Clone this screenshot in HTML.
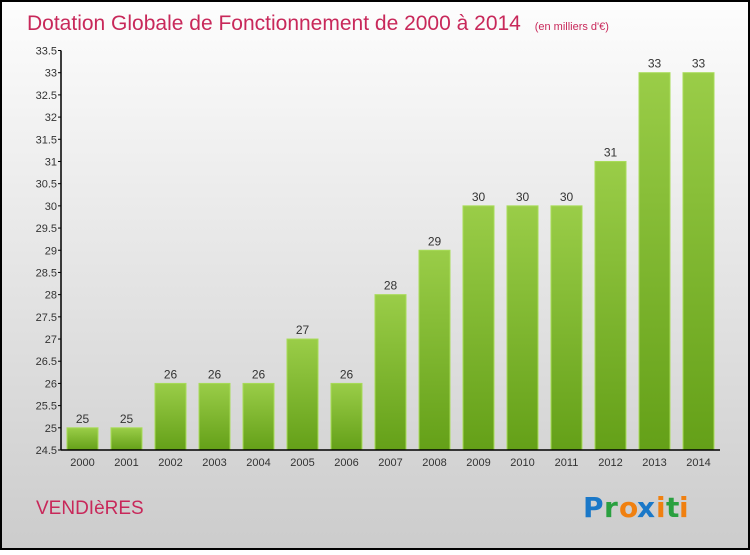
<!DOCTYPE html>
<html><head><meta charset="utf-8"><style>
body{margin:0;width:750px;height:550px;overflow:hidden;font-family:"Liberation Sans",sans-serif}
</style></head><body>
<svg width="750" height="550" xmlns="http://www.w3.org/2000/svg">
<defs>
<linearGradient id="bg" x1="0" y1="0" x2="0" y2="1"><stop offset="0" stop-color="#fdfdfd"/><stop offset="1" stop-color="#cccccc"/></linearGradient>
<linearGradient id="bar" x1="0" y1="0" x2="0" y2="1"><stop offset="0" stop-color="#9acd48"/><stop offset="1" stop-color="#64a018"/></linearGradient>
</defs>
<rect x="1" y="1" width="748" height="548" fill="url(#bg)" stroke="#000" stroke-width="2"/>
<text x="27" y="30" font-size="21" fill="#c8285a">Dotation Globale de Fonctionnement de 2000 à 2014 <tspan font-size="11" dx="8">(en milliers d'€)</tspan></text>
<g id="plot"></g>
<text x="36" y="514" font-size="19" fill="#c8285a">VENDIèRES</text>
<g font-size="28" font-weight="bold" font-family="'DejaVu Sans',sans-serif">
<text x="583" y="517" fill="#1a78c8">P</text><text x="604" y="517" fill="#2aa040">r</text><text x="619" y="517" fill="#f08010">o</text><text x="637" y="517" fill="#1a78c8">x</text><text x="656" y="517" fill="#f08010">i</text><text x="666" y="517" fill="#2aa040">t</text><text x="679" y="517" fill="#f08010">i</text>
</g>
</svg>
<script>
const years=["2000","2001","2002","2003","2004","2005","2006","2007","2008","2009","2010","2011","2012","2013","2014"];
const values=[25,25,26,26,26,27,26,28,29,30,30,30,31,33,33];
const yTicks=[24.5,25,25.5,26,26.5,27,27.5,28,28.5,29,29.5,30,30.5,31,31.5,32,32.5,33,33.5];
{
const NS="http://www.w3.org/2000/svg",g=document.getElementById('plot');
const yMin=24.5,yMax=33.5,plotTop=50.5,plotBot=450;
const y=v=>plotBot-(v-yMin)/(yMax-yMin)*(plotBot-plotTop);
const x=i=>67+i*44;
function mk(t,a,txt){const e=document.createElementNS(NS,t);for(const k in a)e.setAttribute(k,a[k]);if(txt!=null)e.textContent=txt;g.appendChild(e);return e;}
values.forEach((v,i)=>{
const r=mk('rect',{x:x(i),y:y(v),width:31,height:plotBot-y(v),fill:'url(#bar)',stroke:'#a8dc58','stroke-width':1});


const l=mk('text',{x:x(i)+15.5,y:y(v)-5,'text-anchor':'middle','font-size':12,fill:'#333'},String(v));


const t=mk('text',{x:x(i)+15.5,y:466,'text-anchor':'middle','font-size':11,fill:'#333'},years[i]);


});
yTicks.forEach(v=>{
const tk=mk('line',{x1:58,x2:61,y1:y(v),y2:y(v),stroke:'#000'});


const t=mk('text',{x:57,y:y(v)+4,'text-anchor':'end','font-size':11,fill:'#333'},String(v));


});
const ya=mk('line',{x1:61,x2:61,y1:plotTop,y2:plotBot,stroke:'#000','stroke-width':1.5});


const xa=mk('line',{x1:61,x2:720,y1:plotBot,y2:plotBot,stroke:'#000','stroke-width':1.5});


}
</script>
</body></html>
